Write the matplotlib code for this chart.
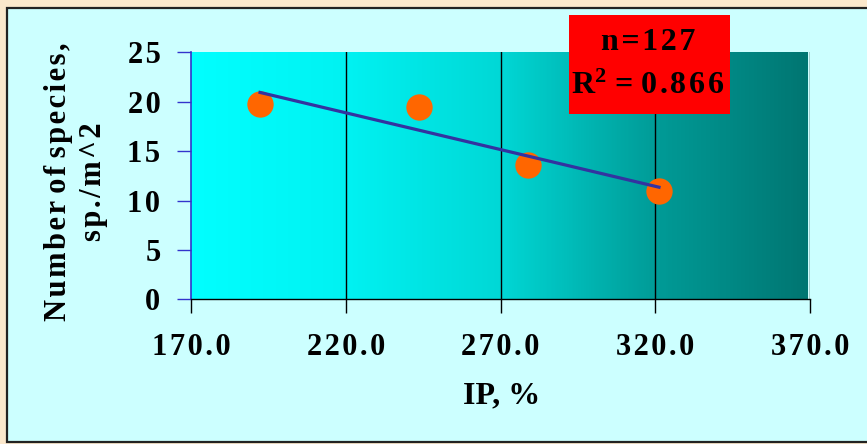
import numpy as np
import matplotlib
matplotlib.use('Agg')
from matplotlib import pyplot as plt
from matplotlib.colors import LinearSegmentedColormap
from matplotlib.patches import Rectangle

# data
ip_values = [192.3, 243.6, 278.9, 321.2]
species = [19.8, 19.5, 13.6, 11.0]
x_ticks = [170, 220, 270, 320, 370]
y_ticks = [0, 5, 10, 15, 20, 25]
n_text = 'n=127'
r2_value = '0.866'


def spaced(s):
    # the original chart uses wide letter spacing (not around real spaces)
    out = s[0]
    for prev, ch in zip(s, s[1:]):
        if prev != ' ' and ch != ' ':
            out += '\u200a'
        out += ch
    return out


plt.rcParams['font.family'] = ['Liberation Serif', 'DejaVu Serif']
plt.rcParams['font.weight'] = 'bold'
plt.rcParams['mathtext.fontset'] = 'custom'
plt.rcParams['mathtext.rm'] = 'Liberation Serif:bold'
plt.rcParams['mathtext.it'] = 'Liberation Serif:bold'
plt.rcParams['mathtext.bf'] = 'Liberation Serif:bold'

fig = plt.figure(figsize=(8.67, 4.44), dpi=100)
fig.patch.set_facecolor('#fbe8cc')

# light cyan panel with dark border
panel = Rectangle((7 / 867, 2 / 444), 1.0, 434 / 444, transform=fig.transFigure,
                  facecolor='#ccffff', edgecolor='#222222', linewidth=1.6, zorder=-1)
fig.patches.append(panel)

ax = fig.add_axes([0.2203, 0.3259, 0.7140, 0.5563])
ax.set_zorder(1)
ax.set_facecolor('#ccffff')

# plot area gradient, cyan -> teal
cmap = LinearSegmentedColormap.from_list('teal', [(0.0, '#00ffff'), (0.25, '#00f2f2'),
                                                  (0.5, '#00d8d6'), (0.75, '#009c98'),
                                                  (1.0, '#007672')])
grad = np.linspace(0, 1, 400).reshape(1, -1)
ax.imshow(grad, cmap=cmap, extent=[170, 369.3, 0, 25], aspect='auto', zorder=0)

for xv in x_ticks[1:]:
    ax.axvline(xv, color='black', linewidth=1.0, zorder=1)

ax.scatter(ip_values, species, s=360, color='#ff6600', zorder=3, linewidths=0)

slope, intercept = np.polyfit(ip_values, species, 1)
fit_x = np.array([min(ip_values), max(ip_values)])
ax.plot(fit_x, slope * fit_x + intercept, color='#3333a0', linewidth=2.3, zorder=4)

ax.set_xlim(170, 370)
ax.set_ylim(0, 25)
ax.set_xticks(x_ticks)
ax.set_xticklabels([spaced('%.1f' % v) for v in x_ticks], fontsize=22, fontweight='bold')
ax.set_yticks(y_ticks)
ax.set_yticklabels([spaced(str(v)) for v in y_ticks], fontsize=22, fontweight='bold')
ax.tick_params(axis='x', direction='out', length=10, width=1, color='black', pad=14)
ax.tick_params(axis='y', direction='out', length=10, width=1, color='#3333cc', pad=12)

for side in ['top', 'right']:
    ax.spines[side].set_visible(False)
ax.spines['left'].set_color('#3333cc')
ax.spines['left'].set_linewidth(1.2)
ax.spines['bottom'].set_color('black')
ax.spines['bottom'].set_linewidth(1.0)

fig.text(502 / 867, 1 - 396 / 444, 'IP, %', fontsize=23, fontweight='bold',
         ha='center', va='center')
fig.text(76 / 867, 1 - 182 / 444, spaced('Number of species,') + '\n' + spaced('sp./m^2'),
         fontsize=22, fontweight='bold', rotation=90, ha='center', va='center',
         multialignment='center', linespacing=1.3)

# red annotation box
box = Rectangle((569 / 867, 1 - 114 / 444), 161 / 867, 99 / 444, transform=fig.transFigure,
                facecolor='#ff0000', edgecolor='none', zorder=5)
fig.patches.append(box)
fig.text(648 / 867, 1 - 42 / 444, spaced(n_text), fontsize=23, fontweight='bold',
         ha='center', va='center', zorder=6)
fig.text(648 / 867, 1 - 86 / 444, 'R$^{2}$ = ' + spaced(r2_value), fontsize=23,
         fontweight='bold', ha='center', va='center', zorder=6)

plt.savefig('out.png', dpi=100, facecolor=fig.get_facecolor())
plt.close()
